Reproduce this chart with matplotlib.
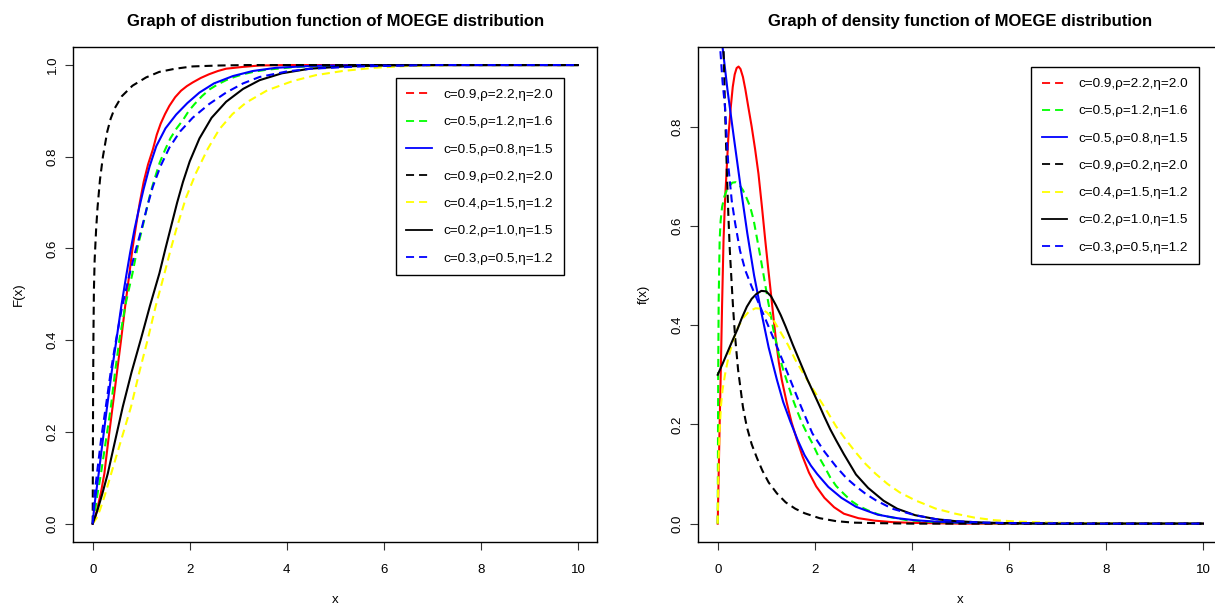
import matplotlib
matplotlib.use("Agg")
import matplotlib.pyplot as plt
from matplotlib.lines import Line2D

plt.rcParams['font.family'] = ['Liberation Sans', 'DejaVu Sans']
plt.rcParams['lines.scale_dashes'] = False

# ---- values ----
labels = ['c=0.9,ρ=2.2,η=2.0', 'c=0.5,ρ=1.2,η=1.6', 'c=0.5,ρ=0.8,η=1.5',
          'c=0.9,ρ=0.2,η=2.0', 'c=0.4,ρ=1.5,η=1.2', 'c=0.2,ρ=1.0,η=1.5',
          'c=0.3,ρ=0.5,η=1.2']
colors = ['#FF0000', '#00FF00', '#0000FF', '#000000', '#FFFF00', '#000000', '#0000FF']
curve_styles = ['solid', 'dashed', 'solid', 'dashed', 'dashed', 'solid', 'dashed']
legend_styles = ['dashed', 'dashed', 'solid', 'dashed', 'dashed', 'solid', 'dashed']

# distribution function F(x)
cdf_red_x = [0, 0.05, 0.1, 0.17, 0.24, 0.32, 0.41, 0.5, 0.585, 0.67, 0.757, 0.82, 0.89, 0.97, 1.05, 1.14, 1.24, 1.32, 1.4, 1.49, 1.58, 1.7, 1.82, 1.94, 2.06, 2.23, 2.4, 2.58, 2.75, 3.1, 3.44, 4, 10]
cdf_red_y = [0, 0.012, 0.035, 0.068, 0.109, 0.18, 0.255, 0.33, 0.401, 0.475, 0.546, 0.6, 0.648, 0.7, 0.745, 0.783, 0.816, 0.848, 0.872, 0.893, 0.911, 0.93, 0.944, 0.954, 0.962, 0.972, 0.98, 0.987, 0.992, 0.996, 0.999, 1, 1]
cdf_green_x = [0, 0.05, 0.1, 0.17, 0.27, 0.375, 0.46, 0.55, 0.68, 0.82, 0.92, 1.03, 1.12, 1.2, 1.29, 1.38, 1.49, 1.6, 1.73, 1.86, 1.98, 2.1, 2.25, 2.41, 2.58, 2.75, 2.92, 3.1, 3.35, 3.6, 4.2, 5, 6, 10]
cdf_green_y = [0, 0.03, 0.065, 0.109, 0.18, 0.255, 0.33, 0.401, 0.48, 0.546, 0.6, 0.648, 0.69, 0.725, 0.757, 0.787, 0.815, 0.84, 0.862, 0.88, 0.9, 0.915, 0.932, 0.947, 0.958, 0.967, 0.974, 0.98, 0.986, 0.99, 0.996, 0.999, 1, 1]
cdf_blue_x = [0, 0.035, 0.124, 0.2, 0.29, 0.39, 0.495, 0.59, 0.69, 0.77, 0.86, 0.95, 1.05, 1.17, 1.31, 1.5, 1.72, 1.95, 2.2, 2.5, 2.89, 3.3, 3.78, 4.5, 5.5, 10]
cdf_blue_y = [0, 0.04, 0.11, 0.175, 0.25, 0.33, 0.405, 0.475, 0.54, 0.59, 0.641, 0.685, 0.73, 0.778, 0.823, 0.862, 0.892, 0.917, 0.94, 0.96, 0.976, 0.987, 0.994, 0.998, 1, 1]
cdf_blackd_x = [0, 0.003, 0.006, 0.01, 0.015, 0.025, 0.04, 0.07, 0.1, 0.15, 0.21, 0.3, 0.37, 0.45, 0.6, 0.82, 1.1, 1.37, 1.7, 2.06, 2.6, 3.2, 10]
cdf_blackd_y = [0, 0.12, 0.22, 0.32, 0.41, 0.51, 0.575, 0.641, 0.69, 0.75, 0.80, 0.855, 0.883, 0.905, 0.932, 0.955, 0.973, 0.985, 0.992, 0.997, 0.999, 1, 1]
cdf_yellow_x = [0, 0.08, 0.15, 0.25, 0.38, 0.58, 0.79, 0.96, 1.13, 1.3, 1.48, 1.6, 1.72, 1.92, 2.13, 2.37, 2.61, 2.88, 3.16, 3.6, 4.12, 4.6, 5.15, 5.8, 6.5, 7.5, 10]
cdf_yellow_y = [0, 0.012, 0.03, 0.062, 0.109, 0.18, 0.255, 0.33, 0.40, 0.475, 0.546, 0.595, 0.641, 0.71, 0.765, 0.817, 0.86, 0.893, 0.918, 0.945, 0.965, 0.978, 0.987, 0.994, 0.998, 1, 1]
cdf_black_x = [0, 0.1, 0.2, 0.31, 0.46, 0.62, 0.8, 1.0, 1.18, 1.375, 1.5, 1.62, 1.74, 1.86, 2.0, 2.2, 2.45, 2.75, 3.1, 3.44, 3.9, 4.47, 5.2, 6, 7, 10]
cdf_black_y = [0, 0.03, 0.066, 0.109, 0.18, 0.255, 0.33, 0.405, 0.475, 0.546, 0.6, 0.65, 0.7, 0.745, 0.79, 0.84, 0.885, 0.92, 0.948, 0.967, 0.982, 0.992, 0.997, 0.999, 1, 1]
cdf_blued_x = [0, 0.02, 0.05, 0.1, 0.18, 0.27, 0.37, 0.48, 0.6, 0.75, 0.87, 1.0, 1.12, 1.24, 1.4, 1.58, 1.8, 2.06, 2.4, 2.75, 3.1, 3.44, 4, 4.5, 5.5, 7, 10]
cdf_blued_y = [0, 0.04, 0.075, 0.12, 0.19, 0.255, 0.33, 0.40, 0.47, 0.54, 0.59, 0.64, 0.69, 0.735, 0.78, 0.82, 0.855, 0.885, 0.915, 0.94, 0.96, 0.974, 0.986, 0.992, 0.997, 1, 1]

# density function f(x)
pdf_red_x = [0, 0.02, 0.04, 0.062, 0.09, 0.12, 0.15, 0.18, 0.22, 0.27, 0.31, 0.35, 0.39, 0.43, 0.47, 0.52, 0.57, 0.63, 0.7, 0.77, 0.84, 0.91, 0.98, 1.04, 1.09, 1.15, 1.2, 1.26, 1.32, 1.42, 1.52, 1.63, 1.75, 1.88, 2.03, 2.2, 2.4, 2.6, 2.9, 3.24, 3.6, 4.05, 5, 10]
pdf_red_y = [0, 0.1, 0.2, 0.3, 0.44, 0.571, 0.65, 0.705, 0.78, 0.84, 0.88, 0.905, 0.918, 0.921, 0.916, 0.90, 0.875, 0.84, 0.8, 0.755, 0.705, 0.64, 0.571, 0.515, 0.47, 0.415, 0.37, 0.325, 0.29, 0.245, 0.205, 0.17, 0.135, 0.103, 0.075, 0.052, 0.033, 0.02, 0.011, 0.006, 0.003, 0.0015, 0, 0]
pdf_green_x = [0, 0.005, 0.01, 0.02, 0.04, 0.06, 0.09, 0.14, 0.2, 0.3, 0.37, 0.45, 0.52, 0.6, 0.67, 0.74, 0.8, 0.87, 0.94, 1.04, 1.15, 1.25, 1.35, 1.45, 1.55, 1.65, 1.75, 1.85, 1.95, 2.07, 2.2, 2.32, 2.44, 2.6, 2.75, 2.9, 3.09, 3.3, 3.5, 3.9, 4.5, 5.5, 7, 10]
pdf_green_y = [0, 0.15, 0.3, 0.45, 0.571, 0.61, 0.638, 0.66, 0.675, 0.687, 0.688, 0.682, 0.672, 0.655, 0.638, 0.612, 0.58, 0.543, 0.504, 0.447, 0.39, 0.345, 0.31, 0.28, 0.25, 0.224, 0.2, 0.18, 0.162, 0.137, 0.115, 0.093, 0.076, 0.06, 0.046, 0.036, 0.027, 0.019, 0.014, 0.007, 0.003, 0.001, 0, 0]
pdf_blue_x = [0, 0.05, 0.1, 0.2, 0.33, 0.47, 0.61, 0.75, 0.89, 1.05, 1.22, 1.35, 1.5, 1.65, 1.79, 1.92, 2.05, 2.28, 2.55, 2.85, 3.1, 3.3, 3.7, 4.05, 4.5, 5, 6, 8, 10]
pdf_blue_y = [1.2, 1.08, 0.96, 0.875, 0.78, 0.68, 0.585, 0.5, 0.43, 0.355, 0.29, 0.245, 0.205, 0.168, 0.138, 0.117, 0.1, 0.074, 0.052, 0.034, 0.025, 0.018, 0.011, 0.007, 0.004, 0.002, 0.001, 0, 0]
pdf_blackd_x = [0.05, 0.1, 0.12, 0.15, 0.19, 0.22, 0.25, 0.29, 0.32, 0.36, 0.42, 0.52, 0.6, 0.7, 0.81, 0.92, 1.05, 1.22, 1.4, 1.6, 1.79, 2.1, 2.44, 2.8, 3.3, 4, 10]
pdf_blackd_y = [2.0, 1.1, 0.96, 0.84, 0.705, 0.62, 0.55, 0.48, 0.43, 0.375, 0.31, 0.235, 0.195, 0.16, 0.132, 0.107, 0.083, 0.061, 0.043, 0.03, 0.021, 0.011, 0.005, 0.002, 0.001, 0, 0]
pdf_yellow_x = [0, 0.01, 0.02, 0.04, 0.07, 0.1, 0.15, 0.22, 0.32, 0.42, 0.53, 0.65, 0.78, 0.9, 1.02, 1.15, 1.3, 1.45, 1.6, 1.78, 1.95, 2.2, 2.44, 2.65, 2.85, 3.05, 3.26, 3.5, 3.75, 4.07, 4.5, 4.9, 5.3, 5.7, 6.2, 6.8, 7.5, 8.5, 10]
pdf_yellow_y = [0, 0.08, 0.13, 0.19, 0.24, 0.27, 0.30, 0.335, 0.37, 0.396, 0.415, 0.428, 0.434, 0.433, 0.425, 0.41, 0.385, 0.36, 0.33, 0.30, 0.273, 0.235, 0.196, 0.168, 0.143, 0.12, 0.10, 0.08, 0.063, 0.047, 0.03, 0.02, 0.012, 0.007, 0.004, 0.002, 0.001, 0, 0]
pdf_black_x = [0, 0.1, 0.2, 0.3, 0.4, 0.5, 0.6, 0.7, 0.8, 0.9, 1.0, 1.1, 1.2, 1.3, 1.4, 1.55, 1.7, 1.85, 1.95, 2.1, 2.2, 2.32, 2.44, 2.6, 2.85, 3.1, 3.42, 3.7, 4.07, 4.5, 4.9, 5.5, 6, 7, 10]
pdf_black_y = [0.30, 0.322, 0.345, 0.368, 0.39, 0.415, 0.437, 0.453, 0.463, 0.469, 0.468, 0.458, 0.44, 0.42, 0.397, 0.36, 0.325, 0.29, 0.269, 0.237, 0.215, 0.19, 0.168, 0.14, 0.099, 0.072, 0.046, 0.03, 0.017, 0.009, 0.005, 0.002, 0.001, 0, 0]
pdf_blued_x = [0, 0.05, 0.1, 0.15, 0.22, 0.29, 0.36, 0.46, 0.57, 0.69, 0.81, 0.95, 1.1, 1.25, 1.47, 1.7, 1.95, 2.2, 2.44, 2.65, 2.85, 3.05, 3.26, 3.6, 4.07, 4.5, 4.9, 5.5, 6, 8, 10]
pdf_blued_y = [1.3, 0.96, 0.89, 0.84, 0.72, 0.65, 0.605, 0.55, 0.51, 0.48, 0.452, 0.42, 0.385, 0.35, 0.296, 0.24, 0.182, 0.145, 0.115, 0.092, 0.075, 0.06, 0.047, 0.03, 0.017, 0.009, 0.005, 0.002, 0.001, 0, 0]

cdf_curves = [(cdf_red_x, cdf_red_y), (cdf_green_x, cdf_green_y), (cdf_blue_x, cdf_blue_y),
              (cdf_blackd_x, cdf_blackd_y), (cdf_yellow_x, cdf_yellow_y), (cdf_black_x, cdf_black_y),
              (cdf_blued_x, cdf_blued_y)]
pdf_curves = [(pdf_red_x, pdf_red_y), (pdf_green_x, pdf_green_y), (pdf_blue_x, pdf_blue_y),
              (pdf_blackd_x, pdf_blackd_y), (pdf_yellow_x, pdf_yellow_y), (pdf_black_x, pdf_black_y),
              (pdf_blued_x, pdf_blued_y)]

xticks = [0, 2, 4, 6, 8, 10]
cdf_yticks = [0.0, 0.2, 0.4, 0.6, 0.8, 1.0]
pdf_yticks = [0.0, 0.2, 0.4, 0.6, 0.8]

DASH = (0, (5.8, 3.6))


def ls_of(name):
    return DASH if name == 'dashed' else '-'


def r_axes(ax, ylim, yticks):
    ax.set_xlim(-0.4, 10.4)
    ax.set_ylim(*ylim)
    ax.set_xticks(xticks)
    ax.set_xticklabels([str(t) for t in xticks])
    ax.set_yticks(yticks)
    ax.set_yticklabels(['%.1f' % t for t in yticks], rotation=90, va='center')
    ax.tick_params(direction='out', length=5.5, width=0.8, labelsize=9.5, color='#333333')
    ax.tick_params(axis='x', pad=10)
    ax.tick_params(axis='y', pad=5)
    for s in ax.spines.values():
        s.set_linewidth(1.0)


def add_legend(ax, anchor):
    handles = [Line2D([], [], color=c, ls=ls_of(s), lw=1.3) for c, s in zip(colors, legend_styles)]
    leg = ax.legend(handles, labels, loc='upper right', bbox_to_anchor=anchor, fontsize=9.7,
                    frameon=True, fancybox=False, edgecolor='black', framealpha=1,
                    borderpad=0.8, labelspacing=1.1, handlelength=1.9, handletextpad=0.85,
                    borderaxespad=0)
    leg.get_frame().set_linewidth(1.0)


W, H = 1215, 605
fig = plt.figure(figsize=(W / 100, H / 100), dpi=100)
ax1 = fig.add_axes([73.3 / W, 1 - 542 / H, 524 / W, 495.3 / H])
ax2 = fig.add_axes([698.3 / W, 1 - 542 / H, 524 / W, 495.3 / H])

for (xs, ys), c, s in zip(cdf_curves, colors, curve_styles):
    ax1.plot(xs, ys, color=c, ls=ls_of(s), lw=1.5)
for (xs, ys), c, s in zip(pdf_curves, colors, curve_styles):
    ax2.plot(xs, ys, color=c, ls=ls_of(s), lw=1.5)

r_axes(ax1, (-0.04, 1.04), cdf_yticks)
r_axes(ax2, (-0.037, 0.961), pdf_yticks)

ax1.set_title('Graph of distribution function of MOEGE distribution', fontsize=12, fontweight='bold', pad=15)
ax2.set_title('Graph of density function of MOEGE distribution', fontsize=12, fontweight='bold', pad=15)
ax1.set_xlabel('x', fontsize=9.5, labelpad=13.5)
ax2.set_xlabel('x', fontsize=9.5, labelpad=13.5)
ax1.set_ylabel('F(x)', fontsize=9.5, labelpad=16)
ax2.set_ylabel('f(x)', fontsize=9.5, labelpad=16)

add_legend(ax1, (0.936, 0.937))
add_legend(ax2, (0.9555, 0.959))

fig.savefig('out.png', dpi=100)
